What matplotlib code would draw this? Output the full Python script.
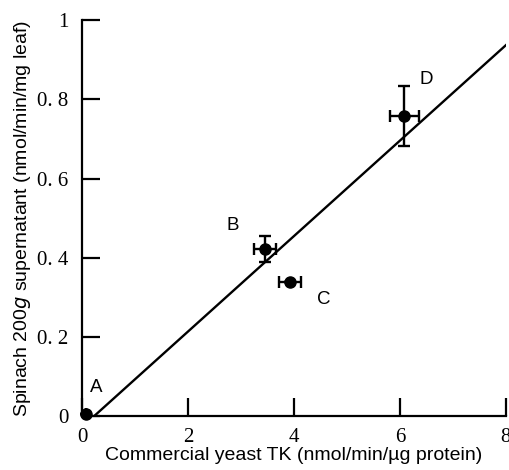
import matplotlib.pyplot as plt
from matplotlib.ticker import FuncFormatter

# Data
labels = ['A', 'B', 'C', 'D']
yeast_tk = [0.08, 3.45, 3.92, 6.08]
yeast_err = [0.0, 0.21, 0.21, 0.27]
spinach = [0.005, 0.421, 0.338, 0.758]
spinach_err = [0.0, 0.033, 0.0, 0.076]

# regression line end points
fit_x = [0.23, 8.0]
fit_y = [0.0, 0.937]

# label positions
label_x = [0.26, 2.85, 4.57, 6.49]
label_y = [0.073, 0.48, 0.295, 0.851]

fig = plt.figure(figsize=(5.1, 4.7), dpi=100)
ax = fig.add_axes([0.161, 0.115, 0.831, 0.842])

ax.plot(fit_x, fit_y, color='black', lw=1.7, zorder=2)
ax.errorbar(yeast_tk, spinach, xerr=yeast_err, yerr=spinach_err, fmt='o',
            color='black', ms=8, elinewidth=1.7, capsize=4, capthick=1.7,
            clip_on=False, zorder=3)

for lab, lx, ly in zip(labels, label_x, label_y):
    ax.text(lx, ly, lab, fontsize=13.5, family='Liberation Sans',
            ha='center', va='center')

ax.set_xlim(0, 8)
ax.set_ylim(0, 1)
ax.set_xticks([0, 2, 4, 6, 8])
ax.set_yticks([0, 0.2, 0.4, 0.6, 0.8, 1])

def fmt(v, pos):
    if v == int(v):
        return '%d' % v
    return ('%.1f' % v).replace('.', '. ')

ax.xaxis.set_major_formatter(FuncFormatter(fmt))
ax.yaxis.set_major_formatter(FuncFormatter(fmt))

ax.spines['top'].set_visible(False)
ax.spines['right'].set_visible(False)
ax.spines['left'].set_linewidth(1.6)
ax.spines['bottom'].set_linewidth(1.6)
ax.tick_params(direction='in', length=13, width=1.6)
ax.tick_params(axis='x', pad=9)
ax.tick_params(axis='y', pad=10)
for t in ax.get_xticklabels() + ax.get_yticklabels():
    t.set_family('Liberation Serif')
    t.set_fontsize(15)

ax.set_xlabel('Commercial yeast TK (nmol/min/\u00b5g protein)',
              family='Liberation Sans', fontsize=14, labelpad=0)
ax.set_ylabel('Spinach 200$\\it{g}$ supernatant (nmol/min/mg leaf)',
              family='Liberation Sans', fontsize=14, labelpad=3)

fig.savefig('out.png', dpi=100)
